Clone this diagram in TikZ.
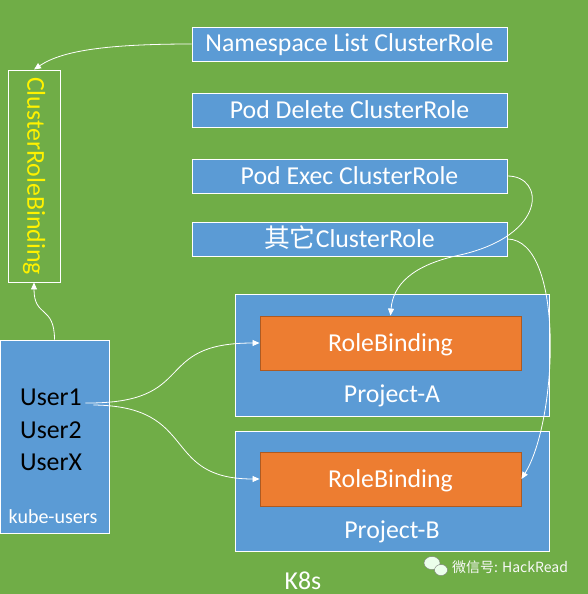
\documentclass[tikz,border=0pt]{standalone}
\usepackage{fontspec}
\setmainfont{Carlito}
\newfontfamily\cjkfont{Noto Sans CJK SC}
\usetikzlibrary{arrows.meta}
\definecolor{bggreen}{HTML}{70AD47}
\definecolor{boxblue}{HTML}{5B9BD5}
\definecolor{rbfill}{HTML}{ED7D31}
\definecolor{rbline}{HTML}{AE5A21}
\tikzset{
  rolebox/.style={draw=white, fill=boxblue, text=white, line width=0.9pt, minimum width=315pt, minimum height=34pt, inner sep=0pt, text height=21pt, text depth=5pt, font=\fontsize{25.8}{30}\selectfont},
  projbox/.style={draw=white, fill=boxblue, line width=0.9pt, minimum width=314pt, inner sep=0pt},
  bindbox/.style={draw=rbline, fill=rbfill, text=white, line width=0.9pt, minimum width=261pt, minimum height=54pt, inner sep=0pt, text height=21pt, text depth=5pt, font=\fontsize{25.8}{30}\selectfont},
  usertxt/.style={text=black, font=\fontsize{25.8}{30}\selectfont},
  whitetxt/.style={text=white, font=\fontsize{25.8}{30}\selectfont},
  link/.style={draw=white, line width=0.8pt, -{Triangle[width=6pt,length=7pt]}}
}

\begin{document}
\begin{tikzpicture}[x=1pt, y=-1pt]
  \fill[bggreen] (0,0) rectangle (588,594);
  \useasboundingbox (0,0) rectangle (588,594);

  % cluster roles
  \node[rolebox] (nslist) at (349.5,44) {Namespace List ClusterRole};
  \node[rolebox] (poddel) at (349.5,110) {Pod Delete ClusterRole};
  \node[rolebox] (podexec) at (349.5,176) {Pod Exec ClusterRole};
  \node[rolebox] (other) at (349.5,239) {{\cjkfont 其它}ClusterRole};

  % cluster role binding
  \node[draw=white, line width=0.9pt, minimum width=52pt, minimum height=212pt, inner sep=0pt] (crb) at (34,176) {};
  \node[text=yellow, rotate=-90, font=\fontsize{25.8}{30}\selectfont] (crbtxt) at (crb.center) {ClusterRoleBinding};

  % users
  \node[draw=white, fill=boxblue, line width=0.9pt, minimum width=109pt, minimum height=193pt, inner sep=0pt] (kube) at (54.5,436.5) {};
  \node[usertxt] (u1) at (51,397) {User1};
  \node[usertxt] (u2) at (51,430) {User2};
  \node[usertxt] (ux) at (51,462) {UserX};
  \node[text=white, font=\fontsize{20}{24}\selectfont] (kubelbl) at (53,517) {kube-users};

  % projects
  \node[projbox, minimum height=122pt] (proja) at (392,355) {};
  \node[bindbox] (rba) at (390.5,343) {RoleBinding};
  \node[whitetxt] (pa) at (392,396) {Project-A};
  \node[projbox, minimum height=120pt] (projb) at (392,491) {};
  \node[bindbox] (rbb) at (390.5,479) {RoleBinding};
  \node[whitetxt] (pb) at (392,532) {Project-B};

  \node[whitetxt, anchor=base, inner sep=0pt] (k8s) at (303,589) {K8s};

  % watermark
  \fill[white!92!green, draw=gray] (432,563) ellipse (8pt and 6.5pt);
  \fill[white!92!green, draw=gray] (441,570) ellipse (6.5pt and 5.5pt);
  \node[text=white!95!gray, font=\cjkfont\fontsize{14}{16}\selectfont] (wm) at (510,567) {微信号: HackRead};

  % connectors
  \draw[link] (nslist.west) .. controls (100,44) and (60,52) .. (crb.north);
  \draw[link] (kube.north) .. controls (54.5,305) and (34,318) .. (crb.south);
  \draw[link] ([yshift=-6pt]u1.east) .. controls (200,404) and (150,343) .. (rba.west);
  \draw[link] ([xshift=8pt,yshift=-8pt]u1.east) .. controls (200,406) and (160,479) .. (rbb.west);
  \draw[link] (podexec.east) .. controls (545,176) and (548,235) .. (460,255) .. controls (412,265) and (393,285) .. (rba.north);
  \draw[link] (other.east) .. controls (565,240) and (558,420) .. (rbb.east);
\end{tikzpicture}
\end{document}
